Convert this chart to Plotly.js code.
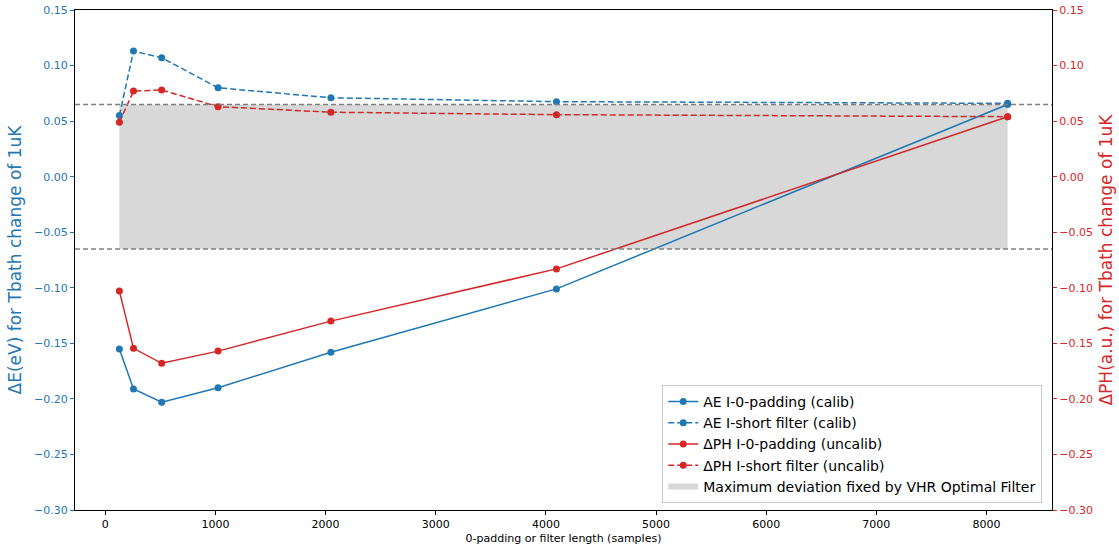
<!DOCTYPE html>
<html>
<head>
<meta charset="utf-8">
<script src="https://cdn.plot.ly/plotly-3.0.1.min.js"></script>
<style>html,body{margin:0;padding:0;background:#fff;}#chart{width:1119px;height:550px;}</style>
</head>
<body>
<div id="chart"></div>
<script>
const lengths = [128, 256, 512, 1024, 2048, 4096, 8192];
const aeZeroPad = [-0.155, -0.191, -0.203, -0.190, -0.158, -0.101, 0.065];
const aeShort   = [0.055, 0.113, 0.107, 0.080, 0.071, 0.0675, 0.066];
const phZeroPad = [-0.103, -0.1545, -0.168, -0.157, -0.130, -0.083, 0.054];
const phShort   = [0.049, 0.077, 0.078, 0.063, 0.058, 0.0558, 0.054];
const fillX = [128, 8192];
const maxDev = 0.065;

const blue = '#1f77b4', red = '#d62728';
const font = 'DejaVu Sans, sans-serif';

const traces = [
  {x: [fillX[0], fillX[1], fillX[1], fillX[0]], y: [-maxDev, -maxDev, maxDev, maxDev],
   type: 'scatter', mode: 'none', fill: 'toself', fillcolor: '#d8d8d8',
   name: 'Maximum deviation fixed by VHR Optimal Filter', legendrank: 5, hoverinfo: 'skip'},
  {x: lengths, y: aeZeroPad, type: 'scatter', mode: 'lines+markers', name: 'AE I-0-padding (calib)',
   line: {color: blue, width: 1.5}, marker: {color: blue, size: 7}, legendrank: 1},
  {x: lengths, y: aeShort, type: 'scatter', mode: 'lines+markers', name: 'AE I-short filter (calib)',
   line: {color: blue, width: 1.5, dash: '6px,3px'}, marker: {color: blue, size: 7}, legendrank: 2},
  {x: lengths, y: phZeroPad, type: 'scatter', mode: 'lines+markers', name: 'ΔPH I-0-padding (uncalib)', yaxis: 'y2',
   line: {color: red, width: 1.5}, marker: {color: red, size: 7}, legendrank: 3},
  {x: lengths, y: phShort, type: 'scatter', mode: 'lines+markers', name: 'ΔPH I-short filter (uncalib)', yaxis: 'y2',
   line: {color: red, width: 1.5, dash: '6px,3px'}, marker: {color: red, size: 7}, legendrank: 4}
];

const layout = {
  width: 1119, height: 550,
  margin: {l: 75, r: 67, t: 10, b: 40},
  paper_bgcolor: '#fff', plot_bgcolor: '#fff',
  font: {family: font, size: 11, color: '#000'},
  showlegend: true,
  legend: {x: 0.99, y: 0.014, xanchor: 'right', yanchor: 'bottom',
    bgcolor: 'rgba(255,255,255,0.8)', bordercolor: '#cccccc', borderwidth: 1,
    font: {family: font, size: 14}, tracegroupgap: 0},
  xaxis: {range: [-275, 8595], tickvals: [0,1000,2000,3000,4000,5000,6000,7000,8000],
    showgrid: false, zeroline: false, showline: true, linecolor: '#000', linewidth: 1, mirror: true,
    ticks: 'outside', ticklen: 4, tickcolor: '#000', tickfont: {size: 11},
    title: {text: '0-padding or filter length (samples)', font: {size: 11}, standoff: 4}},
  yaxis: {range: [-0.30, 0.15], dtick: 0.05, tickformat: '.2f', showgrid: false, zeroline: false,
    showline: true, linecolor: '#000', linewidth: 1, ticks: 'outside', ticklen: 4, tickcolor: blue,
    tickfont: {size: 11, color: blue},
    title: {text: 'ΔE(eV) for Tbath change of 1uK', font: {size: 17, color: blue}, standoff: 8}},
  yaxis2: {range: [-0.30, 0.15], dtick: 0.05, tickformat: '.2f', overlaying: 'y', side: 'right',
    showgrid: false, zeroline: false, showline: true, linecolor: '#000', linewidth: 1,
    ticks: 'outside', ticklen: 4, tickcolor: red, tickfont: {size: 11, color: red},
    title: {text: 'ΔPH(a.u.) for Tbath change of 1uK', font: {size: 17, color: red}, standoff: 8}},
  shapes: [
    {type: 'line', xref: 'paper', x0: 0, x1: 1, yref: 'y', y0: maxDev, y1: maxDev,
     line: {color: 'gray', width: 1.5, dash: '5px,3px'}},
    {type: 'line', xref: 'paper', x0: 0, x1: 1, yref: 'y', y0: -maxDev, y1: -maxDev,
     line: {color: 'gray', width: 1.5, dash: '5px,3px'}}
  ]
};

Plotly.newPlot('chart', traces, layout, {displayModeBar: false});
</script>
</body>
</html>
